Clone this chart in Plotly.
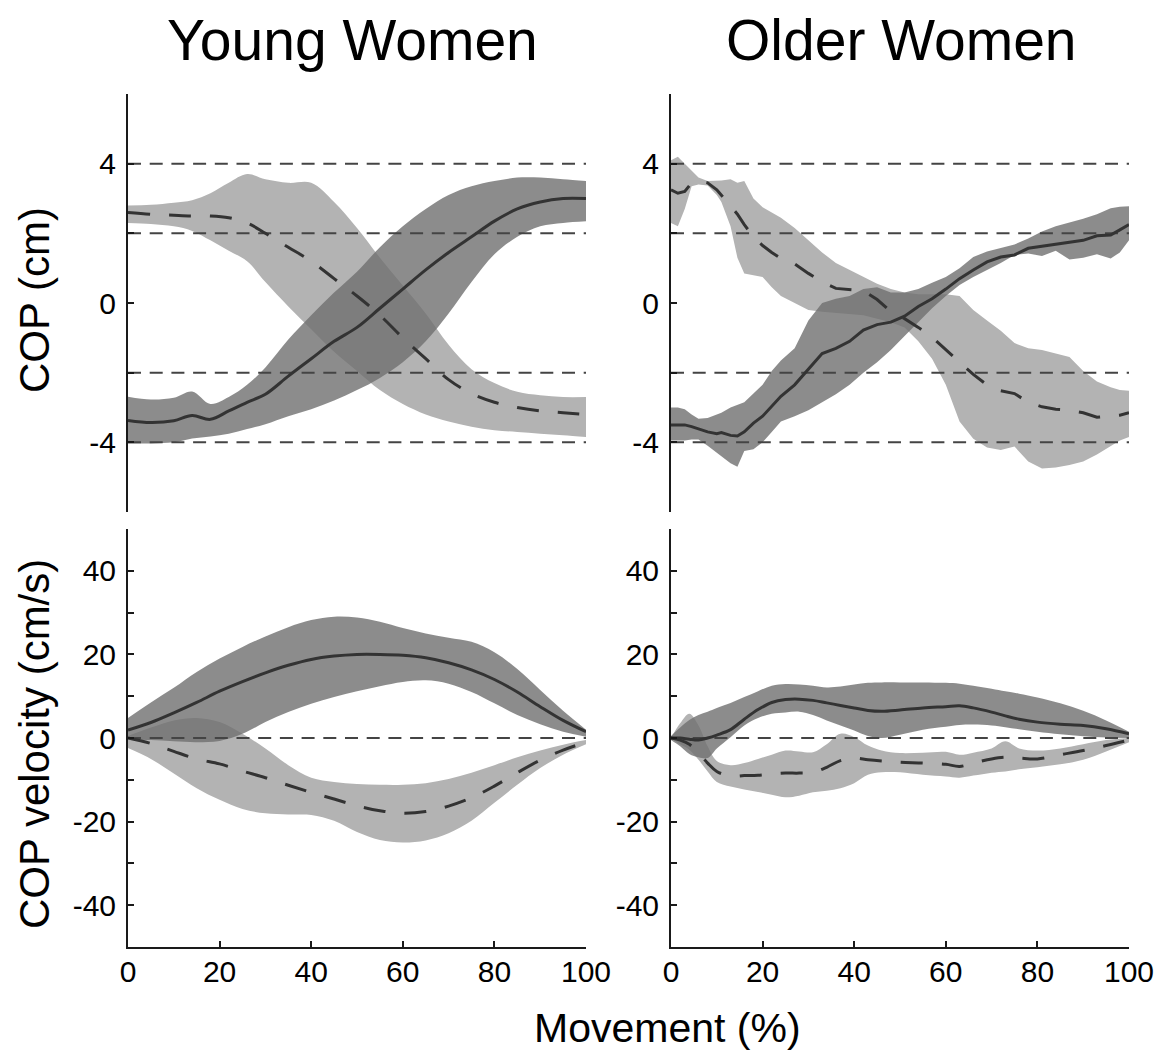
import plotly.graph_objects as go

W, H = 1173, 1055
FONT = "Liberation Sans, Arial, Helvetica, sans-serif"

# ---------------- Young women: COP position (cm) ----------------
yw_cop_x = [0, 5, 10, 14, 18, 22, 26, 30, 35, 40, 45, 50, 55, 60, 65, 70, 75, 80, 85, 90, 95, 100]
yw_cop_light_upper = [2.8, 2.82, 2.88, 2.95, 3.15, 3.45, 3.7, 3.55, 3.45, 3.45, 2.9, 2.15, 1.3, 0.5,
                      -0.3, -1.2, -1.9, -2.3, -2.55, -2.65, -2.7, -2.7]
yw_cop_light_mean = [2.6, 2.55, 2.52, 2.5, 2.5, 2.45, 2.3, 2.0, 1.6, 1.2, 0.7, 0.2, -0.35, -1.0,
                     -1.6, -2.2, -2.6, -2.85, -3.0, -3.1, -3.15, -3.2]
yw_cop_light_lower = [2.3, 2.27, 2.2, 2.07, 1.8, 1.5, 1.2, 0.6, -0.1, -0.75, -1.4, -1.95, -2.5, -2.9,
                      -3.2, -3.4, -3.55, -3.65, -3.7, -3.75, -3.8, -3.85]
yw_cop_dark_upper = [-2.69, -2.77, -2.72, -2.54, -2.9, -2.7, -2.35, -1.85, -1.05, -0.35, 0.3, 0.9, 1.6,
                     2.2, 2.7, 3.1, 3.35, 3.5, 3.6, 3.6, 3.55, 3.5]
yw_cop_dark_mean = [-3.37, -3.43, -3.38, -3.23, -3.34, -3.1, -2.85, -2.62, -2.1, -1.6, -1.1, -0.7, -0.15,
                    0.4, 0.95, 1.45, 1.9, 2.35, 2.7, 2.9, 3.0, 3.0]
yw_cop_dark_lower = [-4.03, -4.03, -4.0, -3.89, -3.83, -3.75, -3.62, -3.48, -3.25, -3.05, -2.8, -2.5,
                     -2.15, -1.7, -1.1, -0.3, 0.6, 1.4, 1.9, 2.2, 2.3, 2.35]

# ---------------- Older women: COP position (cm) ----------------
ow_cop_x = [0, 1.5, 3, 4.5, 6, 8, 10, 11, 13, 14.5, 16, 18, 20, 22, 24, 27, 30, 33, 36, 39, 42, 45,
            48, 51, 54, 57, 60, 63, 66, 69, 72, 75, 78, 81, 84, 87, 90, 93, 96, 98, 100]
ow_cop_light_upper = [4.1, 4.2, 4.0, 3.8, 3.6, 3.5, 3.5, 3.52, 3.55, 3.45, 3.5, 3.0, 2.75, 2.6, 2.45,
                      2.15, 1.8, 1.45, 1.15, 0.95, 0.75, 0.55, 0.4, 0.3, 0.25, 0.25, 0.25, 0.2, -0.2,
                      -0.5, -0.8, -1.15, -1.3, -1.35, -1.45, -1.55, -1.95, -2.25, -2.42, -2.5, -2.52]
ow_cop_light_mean = [3.25, 3.15, 3.2, 3.45, 3.5, 3.45, 3.25, 3.1, 2.8, 2.55, 2.25, 1.9, 1.65, 1.45,
                     1.28, 1.12, 0.85, 0.6, 0.42, 0.38, 0.35, 0.1, -0.25, -0.45, -0.7, -0.98, -1.35,
                     -1.7, -2.05, -2.35, -2.52, -2.6, -2.85, -2.98, -3.05, -3.08, -3.15, -3.28, -3.25,
                     -3.22, -3.15]
ow_cop_light_lower = [2.3, 2.2, 2.7, 3.35, 3.4, 3.37, 3.1, 2.9, 2.2, 1.3, 0.85, 0.8, 0.75, 0.45, 0.2,
                      0.0, -0.2, -0.25, -0.28, -0.3, -0.35, -0.45, -0.55, -0.7, -1.1, -1.6, -2.35,
                      -3.4, -3.9, -4.15, -4.22, -4.12, -4.55, -4.75, -4.72, -4.65, -4.55, -4.35, -4.1,
                      -3.95, -3.85]
ow_cop_dark_upper = [-3.0, -3.0, -3.05, -3.2, -3.32, -3.3, -3.2, -3.15, -3.0, -2.92, -2.85, -2.6, -2.35,
                     -1.95, -1.65, -1.3, -0.5, 0.0, 0.12, 0.2, 0.4, 0.45, 0.3, 0.3, 0.4, 0.58, 0.75,
                     1.0, 1.32, 1.48, 1.58, 1.68, 1.85, 2.05, 2.2, 2.3, 2.42, 2.55, 2.72, 2.76, 2.78]
ow_cop_dark_mean = [-3.5, -3.5, -3.5, -3.55, -3.62, -3.7, -3.75, -3.72, -3.8, -3.82, -3.7, -3.45, -3.25,
                    -2.95, -2.68, -2.35, -1.9, -1.45, -1.3, -1.1, -0.78, -0.62, -0.55, -0.38, -0.1,
                    0.12, 0.4, 0.7, 0.95, 1.18, 1.32, 1.38, 1.57, 1.63, 1.7, 1.75, 1.8, 1.93, 1.95,
                    2.1, 2.25]
ow_cop_dark_lower = [-3.95, -3.95, -3.95, -3.92, -3.92, -4.1, -4.3, -4.4, -4.6, -4.7, -4.25, -4.2, -4.0,
                     -3.7, -3.4, -3.25, -3.08, -2.85, -2.62, -2.35, -2.0, -1.7, -1.35, -0.95, -0.55,
                     -0.15, 0.2, 0.52, 0.75, 0.95, 1.15, 1.38, 1.42, 1.35, 1.5, 1.25, 1.3, 1.4, 1.28,
                     1.45, 1.8]

# ---------------- Young women: COP velocity (cm/s) ----------------
yw_vel_x = [0, 5, 10, 15, 20, 25, 30, 35, 40, 45, 50, 55, 60, 65, 70, 75, 80, 85, 90, 95, 100]
yw_vel_dark_upper = [4.8, 8.5, 12, 15.8, 19, 21.8, 24.3, 26.5, 28.2, 29.0, 28.8, 27.8, 26.3, 25, 24,
                     23, 20.5, 16.5, 11.5, 6.5, 2.0]
yw_vel_dark_mean = [1.9, 3.7, 6.0, 8.5, 11.2, 13.5, 15.6, 17.4, 18.8, 19.6, 20.0, 20.0, 19.8, 19.2,
                    18.0, 16.3, 14.0, 11.0, 7.5, 4.2, 1.5]
yw_vel_dark_lower = [-0.3, -0.5, -0.8, -1.0, -0.7, 1.0, 3.8, 6.2, 8.2, 9.8, 11.2, 12.4, 13.4, 13.8,
                     13.0, 11.0, 8.3, 5.5, 3.3, 1.5, 0.3]
yw_vel_light_upper = [0.5, 2.5, 4.2, 4.8, 3.8, 1.0, -2.5, -6.5, -9.5, -10.5, -11, -11.2, -11.2, -10.8,
                      -9.8, -8.3, -6.5, -4.6, -3.0, -1.6, -0.5]
yw_vel_light_mean = [0, -1.3, -3.2, -5.0, -6.2, -7.9, -9.5, -11.3, -13.0, -14.6, -16.2, -17.4, -18.0,
                     -17.6, -16.3, -14.3, -11.5, -8.3, -5.3, -2.9, -1.0]
yw_vel_light_lower = [-2.4, -5.0, -8.5, -12.0, -14.8, -17.0, -18.0, -18.3, -18.4, -19.8, -22.5, -24.4,
                      -25.0, -24.5, -22.8, -19.8, -15.5, -11.2, -7.2, -4.0, -1.5]

# ---------------- Older women: COP velocity (cm/s) ----------------
ow_vel_x = [0, 2, 4, 6, 8, 10, 13, 16, 19, 22, 25, 28, 31, 34, 37, 40, 43, 46, 50, 55, 60, 63, 66,
            70, 73, 76, 80, 85, 90, 95, 100]
ow_vel_dark_upper = [0.5, 2.5, 4.3, 5.5, 6.3, 7.2, 8.4, 9.8, 11.2, 12.5, 12.9, 12.8, 12.5, 12.1, 12.3,
                     12.8, 13.2, 13.3, 13.3, 13.3, 13.2, 13.0, 12.5, 11.8, 11.2, 10.6, 9.7, 8.3, 6.5,
                     4.2, 1.5]
ow_vel_dark_mean = [0, 0, -0.3, -0.5, 0, 0.7, 2.0, 4.5, 6.8, 8.5, 9.2, 9.3, 9.0, 8.4, 7.8, 7.2, 6.6,
                    6.4, 6.7, 7.2, 7.5, 7.7, 7.2, 6.2, 5.3, 4.5, 3.8, 3.3, 3.0, 2.2, 1.0]
ow_vel_dark_lower = [-0.5, -2.0, -3.8, -4.6, -4.8, -2.5, 0.2, 3.0, 4.8, 5.8, 6.1, 6.3, 5.5, 4.2, 3.0,
                     1.8, 0.5, 0.0, 0.8, 2.0, 2.7, 3.1, 3.2, 3.0, 2.6, 2.1, 1.5, 0.9, 0.4, 0.1, 0.0]
ow_vel_light_upper = [0, 3.5, 5.8, 3.0, -2.0, -5.5, -6.5, -6.0, -5.0, -4.0, -3.0, -3.2, -3.4, -1.5,
                      1.0, 0.2, -1.8, -3.0, -3.6, -3.5, -3.3, -4.0, -3.5, -2.5, -0.8, -2.5, -3.0,
                      -2.5, -1.5, -0.5, 0]
ow_vel_light_mean = [0, -0.5, -1.5, -3.6, -6.0, -8.0, -9.1, -9.0, -8.9, -8.6, -8.4, -8.4, -8.2, -7.0,
                     -5.4, -4.8, -5.2, -5.5, -5.8, -6.0, -6.3, -6.8, -6.0, -5.0, -4.6, -4.8, -5.0,
                     -4.0, -3.0, -1.8, -0.5]
ow_vel_light_lower = [0, -1.5, -2.8, -5.2, -8.0, -10.5, -11.6, -12.3, -12.9, -13.6, -14.2, -13.8, -13.0,
                      -12.6, -12.0, -10.8, -8.8, -8.2, -8.2, -8.8, -9.2, -9.5, -9.0, -8.3, -8.0, -7.5,
                      -7.0, -6.3, -5.2, -3.2, -1.0]

# reference levels
cop_ref_levels = [4, 2, -2, -4]
vel_ref_levels = [0]
x_span = [0, 100]

# axis ticks
cop_tickvals = [-6, -4, -2, 0, 2, 4, 6]
cop_ticktext = ["", "-4", "", "0", "", "4", ""]
vel_tickvals = [-50, -40, -30, -20, -10, 0, 10, 20, 30, 40, 50]
vel_ticktext = ["", "-40", "", "-20", "", "0", "", "20", "", "40", ""]
move_tickvals = [0, 20, 40, 60, 80, 100]
move_ticktext = ["0", "20", "40", "60", "80", "100"]

LIGHT = "rgb(179,179,179)"
DARK = "rgba(111,111,111,0.8)"
MEAN_COLOR = "#333333"
REF_COLOR = "#444444"

fig = go.Figure()


def band(xs, lower, upper, color, shape, xa, ya):
    fig.add_trace(go.Scatter(x=xs, y=lower, mode="lines", line=dict(width=0, shape=shape),
                             hoverinfo="skip", showlegend=False, xaxis=xa, yaxis=ya))
    fig.add_trace(go.Scatter(x=xs, y=upper, mode="lines", line=dict(width=0, shape=shape),
                             fill="tonexty", fillcolor=color, hoverinfo="skip",
                             showlegend=False, xaxis=xa, yaxis=ya))


def mean_line(xs, ys, dash, shape, xa, ya):
    fig.add_trace(go.Scatter(x=xs, y=ys, mode="lines",
                             line=dict(color=MEAN_COLOR, width=3, dash=dash, shape=shape),
                             hoverinfo="skip", showlegend=False, xaxis=xa, yaxis=ya))


def ref_lines(levels, xa, ya):
    for lv in levels:
        fig.add_trace(go.Scatter(x=x_span, y=[lv, lv], mode="lines",
                                 line=dict(color=REF_COLOR, width=2, dash="13px,8.7px"),
                                 hoverinfo="skip", showlegend=False, xaxis=xa, yaxis=ya))


panels = [
    ("x", "y", yw_cop_x, yw_cop_light_lower, yw_cop_light_upper, yw_cop_light_mean,
     yw_cop_dark_lower, yw_cop_dark_upper, yw_cop_dark_mean, cop_ref_levels, "spline"),
    ("x2", "y2", ow_cop_x, ow_cop_light_lower, ow_cop_light_upper, ow_cop_light_mean,
     ow_cop_dark_lower, ow_cop_dark_upper, ow_cop_dark_mean, cop_ref_levels, "linear"),
    ("x3", "y3", yw_vel_x, yw_vel_light_lower, yw_vel_light_upper, yw_vel_light_mean,
     yw_vel_dark_lower, yw_vel_dark_upper, yw_vel_dark_mean, vel_ref_levels, "spline"),
    ("x4", "y4", ow_vel_x, ow_vel_light_lower, ow_vel_light_upper, ow_vel_light_mean,
     ow_vel_dark_lower, ow_vel_dark_upper, ow_vel_dark_mean, vel_ref_levels, "spline"),
]

for xa, ya, xs, ll, lu, lm, dl, du, dm, refs, shape in panels:
    band(xs, ll, lu, LIGHT, shape, xa, ya)
    band(xs, dl, du, DARK, shape, xa, ya)
    ref_lines(refs, xa, ya)
    mean_line(xs, lm, "22px,19px", shape, xa, ya)
    mean_line(xs, dm, "solid", shape, xa, ya)

# plot areas in pixels -> paper fractions
left_dom = [128 / W, 586 / W]
right_dom = [671 / W, 1129 / W]
top_dom = [1 - 512 / H, 1 - 94 / H]
bot_dom = [1 - 947 / H, 1 - 529 / H]

AX = "#1a1a1a"
tickfont = dict(family=FONT, size=30, color="black")

def yax(dom, rng, vals, text, anchor):
    return dict(domain=dom, range=rng, anchor=anchor, showline=True, linecolor=AX, linewidth=2,
                ticks="inside", ticklen=6, tickwidth=2, tickcolor=AX, tickvals=vals,
                ticktext=text, tickfont=tickfont, showgrid=False, zeroline=False,
                fixedrange=True, automargin=False, ticklabelstandoff=4)

def xax_hidden(dom, anchor):
    return dict(domain=dom, range=[0, 100], anchor=anchor, visible=False, fixedrange=True,
                automargin=False)

def xax(dom, anchor):
    return dict(domain=dom, range=[0, 100], anchor=anchor, showline=True, linecolor=AX,
                linewidth=2, ticks="inside", ticklen=6, tickwidth=2, tickcolor=AX,
                tickvals=move_tickvals, ticktext=move_ticktext, tickfont=tickfont,
                showgrid=False, zeroline=False, fixedrange=True, automargin=False,
                ticklabelstandoff=-3)

fig.update_layout(
    template="none",
    autosize=False,
    width=W, height=H,
    margin=dict(l=0, r=0, t=0, b=0, pad=0),
    paper_bgcolor="white", plot_bgcolor="white",
    showlegend=False,
    font=dict(family=FONT, color="black"),
    xaxis=xax_hidden(left_dom, "y"),
    yaxis=yax(top_dom, [-6, 6], cop_tickvals, cop_ticktext, "x"),
    xaxis2=xax_hidden(right_dom, "y2"),
    yaxis2=yax(top_dom, [-6, 6], cop_tickvals, cop_ticktext, "x2"),
    xaxis3=xax(left_dom, "y3"),
    yaxis3=yax(bot_dom, [-50, 50], vel_tickvals, vel_ticktext, "x3"),
    xaxis4=xax(right_dom, "y4"),
    yaxis4=yax(bot_dom, [-50, 50], vel_tickvals, vel_ticktext, "x4"),
)

def label(text, xpx, ypx, size, angle=0):
    fig.add_annotation(text=text, x=xpx / W, y=1 - ypx / H, xref="paper", yref="paper",
                       showarrow=False, textangle=angle, xanchor="center", yanchor="middle",
                       font=dict(family=FONT, size=size, color="black"))

label("Young Women", 352, 40, 57)
label("Older Women", 901, 40, 57)
label("COP (cm)", 34, 300, 42, -90)
label("COP velocity (cm/s)", 34, 744, 42, -90)
label("Movement (%)", 667, 1028, 41)

fig.write_html("out.html")
